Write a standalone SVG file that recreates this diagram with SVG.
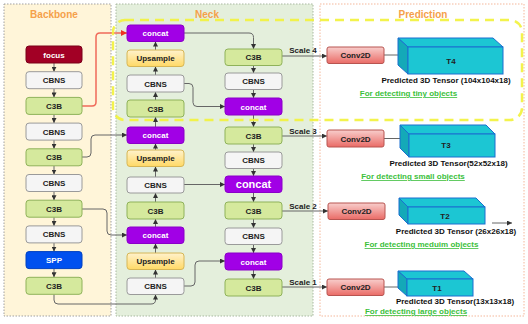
<svg xmlns="http://www.w3.org/2000/svg" width="528" height="324" viewBox="0 0 528 324">
<defs>
<linearGradient id="gUp" x1="0" y1="0" x2="0" y2="1"><stop offset="0" stop-color="#fff2cc"/><stop offset="1" stop-color="#ffd966"/></linearGradient>
<linearGradient id="gConv" x1="0" y1="0" x2="0" y2="1"><stop offset="0" stop-color="#f8cecc"/><stop offset="1" stop-color="#ea6b66"/></linearGradient>
<marker id="ar" markerWidth="5" markerHeight="5" refX="5" refY="2.5" orient="auto" markerUnits="userSpaceOnUse"><path d="M0,0 L5,2.5 L0,5 z" fill="#333"/></marker>
<marker id="arR" markerWidth="6" markerHeight="6" refX="6" refY="3" orient="auto" markerUnits="userSpaceOnUse"><path d="M0,0 L6,3 L0,6 z" fill="#ee3322"/></marker>
<style>
text{font-family:"Liberation Sans",Arial,sans-serif;font-weight:bold;font-size:8px;text-anchor:middle}
.title{font-size:10px;fill:#f5a04a}
.w{fill:#ffffff}
.d{fill:#222222}
.cbns{fill:#f5f5f5;stroke:#9a9a9a;stroke-width:1}
.c3b{fill:#d5e99d;stroke:#8fb25a;stroke-width:1}
.focus{fill:#a20025;stroke:#7a0019;stroke-width:1}
.spp{fill:#0050ef;stroke:#0040c0;stroke-width:1}
.concat{fill:#a100e6;stroke:#8a00c8;stroke-width:1}
.up{fill:url(#gUp);stroke:#d6b656;stroke-width:1}
.conv{fill:url(#gConv);stroke:#b85450;stroke-width:1}
.ten{fill:#1cc6d3;stroke:#1a6fd0;stroke-width:1}
.tenD{fill:#14a9b8;stroke:#1a6fd0;stroke-width:1}
.ln{fill:none;stroke:#666666;stroke-width:1;marker-end:url(#ar)}
.cap{fill:#111111}
.grn{fill:#3cbf3c;text-decoration:underline}
</style>
</defs>
<!-- panels -->
<rect x="4" y="4" width="107" height="312" fill="#fff5d9" stroke="#a0a0a0" stroke-width="1" stroke-dasharray="1.5,1.5"/>
<rect x="116" y="4" width="197" height="312" fill="#e4efdc" stroke="#a8b8a0" stroke-width="1" stroke-dasharray="1.5,1.5"/>
<rect x="320" y="4" width="204" height="312" fill="#ffffff" stroke="#f4b79a" stroke-width="1" stroke-dasharray="1.5,1.5"/>
<text class="title" x="54" y="18">Backbone</text>
<text class="title" x="207" y="18">Neck</text>
<text class="title" x="423" y="18">Prediction</text>

<!-- connectors -->
<g id="connectors">
<path class="ln" d="M54,63 V71.7"/>
<path class="ln" d="M54,88.7 V97.4"/>
<path class="ln" d="M54,114.4 V123.1"/>
<path class="ln" d="M54,140.1 V148.8"/>
<path class="ln" d="M54,165.8 V174.5"/>
<path class="ln" d="M54,191.5 V200.2"/>
<path class="ln" d="M54,217.2 V225.9"/>
<path class="ln" d="M54,242.9 V251.6"/>
<path class="ln" d="M54,268.6 V277.3"/>
<path d="M82,106 H92 Q96,106 96,102 V37 Q96,33 100,33 H127" fill="none" stroke="#f06a5a" stroke-width="1.5" marker-end="url(#arR)"/>
<path class="ln" d="M82,157 H87 Q91,157 91,153 V139 Q91,135 95,135 H127"/>
<path class="ln" d="M82,209 H103 Q107,209 107,213 V231 Q107,235 111,235 H127"/>
<path class="ln" d="M54,294.3 V300 Q54,304 58,304 H151 Q155.5,304 155.5,300 V294.5"/>
<!-- neck left column upward -->
<path class="ln" d="M155.5,278 V269.5"/>
<path class="ln" d="M155.5,253 V243.5"/>
<path class="ln" d="M155.5,227 V219"/>
<path class="ln" d="M155.5,202 V193"/>
<path class="ln" d="M155.5,177 V166.5"/>
<path class="ln" d="M155.5,152 V143.5"/>
<path class="ln" d="M155.5,127 V117"/>
<path class="ln" d="M155.5,100 V92"/>
<path class="ln" d="M155.5,75 V66.5"/>
<path class="ln" d="M155.5,50 V41.5"/>
<!-- neck cross -->
<path class="ln" d="M184,33 H249 Q253.5,33 253.5,37.5 V49"/>
<path class="ln" d="M184,83.5 H189 Q193,83.5 193,87.5 V102.5 Q193,106.5 197,106.5 H225"/>
<path class="ln" d="M184,184.5 H225"/>
<path class="ln" d="M184,286 H191 Q195,286 195,282 V265 Q195,261 199,261 H225"/>
<!-- neck right column downward -->
<path class="ln" d="M253.5,65.5 V73"/>
<path class="ln" d="M253.5,89.5 V98"/>
<path class="ln" d="M253.5,115 V127"/>
<path class="ln" d="M253.5,144 V152"/>
<path class="ln" d="M253.5,168.5 V176"/>
<path class="ln" d="M253.5,192.5 V202"/>
<path class="ln" d="M253.5,219 V228"/>
<path class="ln" d="M253.5,244.5 V253"/>
<path class="ln" d="M253.5,270 V279"/>
<!-- scales -->
<path class="ln" d="M282,56 H327"/>
<path class="ln" d="M282,136 H327"/>
<path class="ln" d="M282,211 H328"/>
<path class="ln" d="M282,287 H327"/>
<text class="d" x="303" y="53">Scale 4</text>
<text class="d" x="303" y="134">Scale 3</text>
<text class="d" x="303" y="209">Scale 2</text>
<text class="d" x="303" y="285">Scale 1</text>
<!-- conv to tensor -->
<path class="ln" d="M384,55 H407"/>
<path class="ln" d="M384,138.5 H408"/>
<path class="ln" d="M492,223 H512"/>
<path class="ln" d="M384,287 H406"/>
</g>

<!-- backbone nodes -->
<g id="b_focus"><rect class="focus" x="26" y="46" width="56" height="17" rx="3"/><text class="w" x="54" y="57.5">focus</text></g>
<g id="b_cbns1"><rect class="cbns" x="26" y="71.7" width="56" height="17" rx="3"/><text class="d" x="54" y="83.2">CBNS</text></g>
<g id="b_c3b1"><rect class="c3b" x="26" y="97.4" width="56" height="17" rx="3"/><text class="d" x="54" y="108.9">C3B</text></g>
<g id="b_cbns2"><rect class="cbns" x="26" y="123.1" width="56" height="17" rx="3"/><text class="d" x="54" y="134.6">CBNS</text></g>
<g id="b_c3b2"><rect class="c3b" x="26" y="148.8" width="56" height="17" rx="3"/><text class="d" x="54" y="160.3">C3B</text></g>
<g id="b_cbns3"><rect class="cbns" x="26" y="174.5" width="56" height="17" rx="3"/><text class="d" x="54" y="186">CBNS</text></g>
<g id="b_c3b3"><rect class="c3b" x="26" y="200.2" width="56" height="17" rx="3"/><text class="d" x="54" y="211.7">C3B</text></g>
<g id="b_cbns4"><rect class="cbns" x="26" y="225.9" width="56" height="17" rx="3"/><text class="d" x="54" y="237.4">CBNS</text></g>
<g id="b_spp"><rect class="spp" x="26" y="251.6" width="56" height="17" rx="3"/><text class="w" x="54" y="263.1">SPP</text></g>
<g id="b_c3b4"><rect class="c3b" x="26" y="277.3" width="56" height="17" rx="3"/><text class="d" x="54" y="288.8">C3B</text></g>

<!-- neck left column -->
<g id="n_concat1"><rect class="concat" x="127" y="25" width="57" height="16.5" rx="3"/><text class="w" x="155.5" y="36.2">concat</text></g>
<g id="n_up1"><rect class="up" x="127" y="50" width="57" height="16.5" rx="3"/><text class="d" x="155.5" y="61.2">Upsample</text></g>
<g id="n_cbns1"><rect class="cbns" x="127" y="75" width="57" height="17" rx="3"/><text class="d" x="155.5" y="86.5">CBNS</text></g>
<g id="n_c3b1"><rect class="c3b" x="127" y="100" width="57" height="17" rx="3"/><text class="d" x="155.5" y="111.5">C3B</text></g>
<g id="n_concat2"><rect class="concat" x="127" y="127" width="57" height="16.5" rx="3"/><text class="w" x="155.5" y="138.2">concat</text></g>
<g id="n_up2"><rect class="up" x="127" y="150" width="57" height="16.5" rx="3"/><text class="d" x="155.5" y="161.2">Upsample</text></g>
<g id="n_cbns2"><rect class="cbns" x="127" y="177" width="57" height="16" rx="3"/><text class="d" x="155.5" y="187.8">CBNS</text></g>
<g id="n_c3b2"><rect class="c3b" x="127" y="202" width="57" height="17" rx="3"/><text class="d" x="155.5" y="213.5">C3B</text></g>
<g id="n_concat3"><rect class="concat" x="127" y="227" width="57" height="16.5" rx="3"/><text class="w" x="155.5" y="238.2">concat</text></g>
<g id="n_up3"><rect class="up" x="127" y="253" width="57" height="16.5" rx="3"/><text class="d" x="155.5" y="264.2">Upsample</text></g>
<g id="n_cbns3"><rect class="cbns" x="127" y="278" width="57" height="16.5" rx="3"/><text class="d" x="155.5" y="289.2">CBNS</text></g>

<!-- neck right column -->
<g id="n_c3b_r1"><rect class="c3b" x="225" y="49" width="57" height="16.5" rx="3"/><text class="d" x="253.5" y="60.2">C3B</text></g>
<g id="n_cbns_r1"><rect class="cbns" x="225" y="73" width="57" height="16.5" rx="3"/><text class="d" x="253.5" y="84.2">CBNS</text></g>
<g id="n_concat_r1"><rect class="concat" x="225" y="98" width="57" height="17" rx="3"/><text class="w" x="253.5" y="109.5">concat</text></g>
<g id="n_c3b_r2"><rect class="c3b" x="225" y="127" width="57" height="17" rx="3"/><text class="d" x="253.5" y="138.5">C3B</text></g>
<g id="n_cbns_r2"><rect class="cbns" x="225" y="152" width="57" height="16.5" rx="3"/><text class="d" x="253.5" y="163.2">CBNS</text></g>
<g id="n_concat_r2"><rect class="concat" x="225" y="176" width="57" height="16.5" rx="3"/><text class="w" x="253.5" y="188.2" style="font-size:11px">concat</text></g>
<g id="n_c3b_r3"><rect class="c3b" x="225" y="202" width="57" height="17" rx="3"/><text class="d" x="253.5" y="213.5">C3B</text></g>
<g id="n_cbns_r3"><rect class="cbns" x="225" y="228" width="57" height="16.5" rx="3"/><text class="d" x="253.5" y="239.2">CBNS</text></g>
<g id="n_concat_r3"><rect class="concat" x="225" y="253" width="57" height="17" rx="3"/><text class="w" x="253.5" y="264.5">concat</text></g>
<g id="n_c3b_r4"><rect class="c3b" x="225" y="279" width="57" height="17" rx="3"/><text class="d" x="253.5" y="290.5">C3B</text></g>

<!-- prediction -->
<g id="p_conv4"><rect class="conv" x="327" y="47" width="57" height="16.5" rx="2"/><text class="d" x="355.5" y="58.2">Conv2D</text></g>
<g id="p_conv3"><rect class="conv" x="327" y="130" width="57" height="17" rx="2"/><text class="d" x="355.5" y="141.5">Conv2D</text></g>
<g id="p_conv2"><rect class="conv" x="328" y="203" width="57" height="16.5" rx="2"/><text class="d" x="356.5" y="214.2">Conv2D</text></g>
<g id="p_conv1"><rect class="conv" x="327" y="279" width="57" height="16.5" rx="2"/><text class="d" x="355.5" y="290.2">Conv2D</text></g>

<g id="p_T4">
<polygon class="ten" points="398,38 493,38 503,47 408,47"/>
<polygon class="tenD" points="398,38 408,47 408,74 398,65"/>
<rect class="ten" x="408" y="47" width="95" height="27"/>
<text class="d" x="451" y="64">T4</text>
<text class="cap" x="446" y="83">Predicted 3D Tensor (104x104x18)</text>
<text class="grn" x="408.5" y="96">For detecting tiny objects</text>
</g>
<g id="p_T3">
<polygon class="ten" points="400,125 486,125 495,134 409,134"/>
<polygon class="tenD" points="400,125 409,134 409,157 400,148"/>
<rect class="ten" x="409" y="134" width="86" height="23"/>
<text class="d" x="446" y="148">T3</text>
<text class="cap" x="448.5" y="166">Predicted 3D Tensor(52x52x18)</text>
<text class="grn" x="413" y="179">For detecting small objects</text>
</g>
<g id="p_T2">
<polygon class="ten" points="399,198 476,198 485,207 408,207"/>
<polygon class="tenD" points="399,198 408,207 408,224 399,215"/>
<rect class="ten" x="408" y="207" width="77" height="17"/>
<text class="d" x="445" y="219">T2</text>
<text class="cap" x="456" y="234">Predicted 3D Tensor (26x26x18)</text>
<text class="grn" x="421.5" y="247">For detecting meduim objects</text>
</g>
<g id="p_T1">
<polygon class="ten" points="398,271 464,271 473,279 407,279"/>
<polygon class="tenD" points="398,271 407,279 407,296 398,288"/>
<rect class="ten" x="407" y="279" width="66" height="17"/>
<text class="d" x="437" y="291">T1</text>
<text class="cap" x="455" y="304">Predicted 3D Tensor(13x13x18)</text>
<text class="grn" x="416" y="314">For detecting large objects</text>
</g>

<!-- yellow highlight -->
<rect x="113" y="20" width="409" height="100" rx="12" fill="none" stroke="#f2f23a" stroke-width="2.5" stroke-dasharray="9,6" opacity="0.9"/>
</svg>
